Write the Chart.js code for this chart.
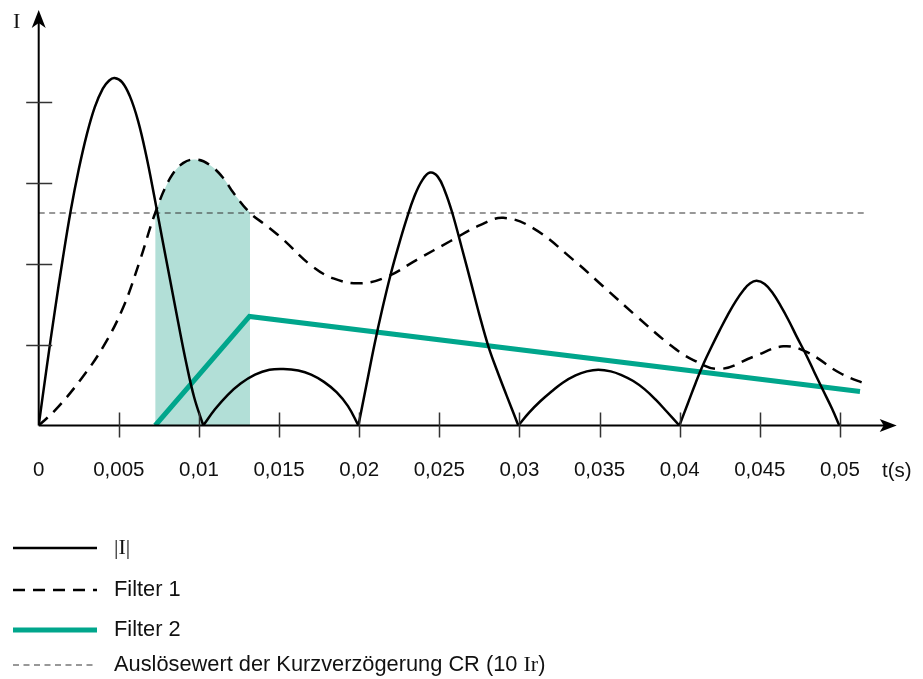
<!DOCTYPE html>
<html>
<head>
<meta charset="utf-8">
<script src="https://cdn.jsdelivr.net/npm/chart.js@4/dist/chart.umd.min.js"></script>
<style>
  html, body { margin: 0; padding: 0; background: #fff; }
  canvas { display: block; }
</style>
</head>
<body>
<canvas id="c" width="923" height="679"></canvas>
<script>
// Time in milliseconds, current in axis divisions.
// |I| is a rectified wave; null entries split the lobes so every zero is a sharp cusp.
const currentT = [
  0, 0.5, 1.0, 1.5, 2.0, 2.5, 3.0, 3.5, 4.0, 4.4, 4.73, 5.2, 5.7, 6.2, 6.7, 7.2, 7.7, 8.2, 8.7, 9.2, 9.7, 10.27,
  10.27,
  10.27, 11.0, 11.8, 12.6, 13.5, 14.4, 15.27, 16.2, 17.0, 17.8, 18.6, 19.3, 19.95,
  19.95,
  19.95, 20.45, 20.95, 21.45, 21.95, 22.45, 22.95, 23.45, 23.95, 24.42, 24.9, 25.35, 25.81, 26.4, 27.0, 27.5, 28.06, 28.6, 29.2, 29.93,
  29.93,
  29.93, 30.6, 31.3, 32.0, 32.7, 33.5, 34.2, 34.92, 35.7, 36.4, 37.1, 37.8, 38.5, 39.2, 39.98,
  39.98,
  39.98, 40.5, 41.0, 41.5, 42.0, 42.5, 43.0, 43.5, 44.0, 44.4, 44.8, 45.3, 45.8, 46.3, 46.8, 47.3, 47.9, 48.4, 48.96, 49.5, 49.96
];
const currentI = [
  0, 0.72, 1.41, 2.06, 2.66, 3.17, 3.6, 3.94, 4.17, 4.27, 4.30, 4.25, 4.07, 3.77, 3.35, 2.85, 2.32, 1.8, 1.28, 0.78, 0.35, 0,
  null,
  0, 0.2, 0.38, 0.52, 0.63, 0.69, 0.70, 0.68, 0.63, 0.54, 0.41, 0.24, 0,
  null,
  0, 0.5, 1.0, 1.45, 1.86, 2.22, 2.55, 2.84, 3.04, 3.13, 3.08, 2.9, 2.63, 2.2, 1.75, 1.37, 0.98, 0.68, 0.37, 0,
  null,
  0, 0.16, 0.3, 0.42, 0.53, 0.62, 0.67, 0.69, 0.67, 0.62, 0.55, 0.45, 0.32, 0.17, 0,
  null,
  0, 0.27, 0.53, 0.77, 0.98, 1.18, 1.37, 1.54, 1.68, 1.76, 1.79, 1.75, 1.64, 1.48, 1.3, 1.1, 0.87, 0.66, 0.43, 0.21, 0
];

const filter1T = [
  0, 1.03, 2.59, 4.04, 5.29, 6.33, 7.27, 8.2, 9.03, 9.87, 10.7, 11.53, 12.15, 13.19, 14.24, 15.27,
  16.94, 18.39, 20.06, 21.72, 23.59, 25.67, 27.54, 28.99, 30.87, 33.36, 35.23, 37.32, 39.39,
  40.85, 42.51, 44.59, 46.46, 47.92, 50.0, 51.77
];
const filter1I = [
  0, 0.19, 0.56, 0.98, 1.47, 2.05, 2.63, 3.06, 3.25, 3.29, 3.22, 3.06, 2.88, 2.63, 2.47, 2.30,
  1.99, 1.82, 1.76, 1.84, 2.05, 2.28, 2.48, 2.57, 2.44, 2.05, 1.72, 1.35, 1.00,
  0.81, 0.70, 0.85, 0.98, 0.91, 0.65, 0.50
];

const filter2T = [7.27, 13.15, 51.25];
const filter2I = [0, 1.35, 0.42];

const thresholdT = [0, 51.68];
const thresholdI = [2.63, 2.63];

// Window in which Filter 1 stays above the pick-up value
const pickupWindow = [7.27, 13.19];

const xTickValues = [0, 5, 10, 15, 20, 25, 30, 35, 40, 45, 50];
const xTickLabels = ['0', '0,005', '0,01', '0,015', '0,02', '0,025', '0,03', '0,035', '0,04', '0,045', '0,05'];
const yTickValues = [1, 2, 3, 4];

const legendLabels = ['|I|', 'Filter 1', 'Filter 2', 'Auslösewert der Kurzverzögerung CR (10 Ir)'];

const SANS = "'Liberation Sans', Arial, sans-serif";
const SERIF = "'Liberation Serif', 'Times New Roman', serif";
const TEAL = 'rgb(0,166,140)';
const SHADE = 'rgb(178,223,215)';

const pts = (ts, vs) => ts.map((t, i) => ({ x: t, y: vs[i] }));
const shadePts = pts(filter1T, filter1I).filter(p => p.x >= pickupWindow[0] && p.x <= pickupWindow[1]);

// Axes with arrow heads, tick marks crossing the axes, labels and the legend
const decor = {
  id: 'decor',
  afterDatasetsDraw(chart) {
    const { ctx, chartArea: a, scales: { x, y } } = chart;
    const x0 = x.getPixelForValue(0), y0 = y.getPixelForValue(0);
    ctx.save();
    ctx.strokeStyle = '#000';
    ctx.fillStyle = '#000';
    ctx.lineWidth = 2;
    ctx.beginPath();
    ctx.moveTo(x0, y0); ctx.lineTo(a.right - 8, y0);
    ctx.moveTo(x0, y0); ctx.lineTo(x0, a.top + 8);
    ctx.stroke();
    // arrow heads
    ctx.beginPath();
    ctx.moveTo(a.right, y0); ctx.lineTo(a.right - 17, y0 - 6.5); ctx.lineTo(a.right - 13, y0); ctx.lineTo(a.right - 17, y0 + 6.5);
    ctx.closePath(); ctx.fill();
    ctx.beginPath();
    ctx.moveTo(x0, a.top); ctx.lineTo(x0 - 7, a.top + 18); ctx.lineTo(x0, a.top + 13); ctx.lineTo(x0 + 7, a.top + 18);
    ctx.closePath(); ctx.fill();
    // tick marks
    ctx.strokeStyle = '#333';
    ctx.lineWidth = 1.5;
    ctx.beginPath();
    xTickValues.forEach(v => {
      if (v === 0) return;
      const px = Math.round(x.getPixelForValue(v)) + 0.5;
      ctx.moveTo(px, y0 - 13); ctx.lineTo(px, y0 + 12);
    });
    yTickValues.forEach(v => {
      const py = Math.round(y.getPixelForValue(v)) + 0.5;
      ctx.moveTo(x0 - 12.5, py); ctx.lineTo(x0 + 13.5, py);
    });
    ctx.stroke();
    ctx.restore();
  },
  afterDraw(chart) {
    const { ctx } = chart;
    ctx.save();
    ctx.fillStyle = '#111';
    ctx.textBaseline = 'alphabetic';
    ctx.textAlign = 'left';
    ctx.font = '22px ' + SERIF;
    ctx.fillText('I', 13, 28);
    ctx.font = '20.5px ' + SANS;
    ctx.fillText('t(s)', 882, 477);

    // legend
    const lineX0 = 13, lineX1 = 97, textX = 114;
    const rowsY = [548, 590, 630, 665];
    legendLabels.forEach((label, i) => {
      const ds = chart.data.datasets[i];
      const yy = rowsY[i];
      ctx.save();
      ctx.strokeStyle = ds.borderColor;
      ctx.lineWidth = ds.borderWidth;
      ctx.setLineDash(ds.borderDash || []);
      ctx.beginPath();
      ctx.moveTo(lineX0, yy); ctx.lineTo(lineX1, yy);
      ctx.stroke();
      ctx.restore();
      // current symbols are set in a serif face
      let cx = textX;
      ctx.textBaseline = 'middle';
      label.split(/(\|I\||Ir)/).forEach(part => {
        if (!part) return;
        const serif = part === '|I|' || part === 'Ir';
        ctx.font = serif ? '22px ' + SERIF : '21.8px ' + SANS;
        ctx.fillText(part, cx, yy);
        cx += ctx.measureText(part).width;
      });
    });
    ctx.restore();
  }
};

Chart.defaults.font.family = SANS;

new Chart(document.getElementById('c'), {
  type: 'line',
  data: {
    datasets: [
      { label: legendLabels[0], data: pts(currentT, currentI), borderColor: '#000', borderWidth: 2.5,
        pointRadius: 0, tension: 0.4, fill: false, order: 0 },
      { label: legendLabels[1], data: pts(filter1T, filter1I), borderColor: '#000', borderWidth: 2.5,
        borderDash: [12, 8], pointRadius: 0, tension: 0.4, fill: false, order: 1 },
      { label: legendLabels[2], data: pts(filter2T, filter2I), borderColor: TEAL, borderWidth: 5,
        pointRadius: 0, tension: 0, fill: false, order: 2 },
      { label: legendLabels[3], data: pts(thresholdT, thresholdI), borderColor: '#333', borderWidth: 1.1,
        borderDash: [6, 4.5], pointRadius: 0, tension: 0, fill: false, order: 3 },
      { label: 'shade', data: shadePts, borderWidth: 0, borderColor: 'rgba(0,0,0,0)', backgroundColor: SHADE,
        pointRadius: 0, tension: 0.4, fill: 'origin', order: 4 }
    ]
  },
  options: {
    responsive: false,
    animation: false,
    devicePixelRatio: 1,
    events: [],
    layout: { padding: { left: 38.5, right: 26.3, top: 10, bottom: 193.5 } },
    plugins: { legend: { display: false }, tooltip: { enabled: false } },
    scales: {
      x: {
        type: 'linear', min: 0, max: 53.54,
        grid: { display: false, drawTicks: false },
        border: { display: false },
        ticks: {
          padding: 33, color: '#111', font: { size: 20.5 }, autoSkip: false, maxRotation: 0,
          callback: (v, i) => xTickLabels[i]
        },
        afterBuildTicks: s => { s.ticks = xTickValues.map(v => ({ value: v })); },
        afterFit: s => { s.height = 60; }
      },
      y: { type: 'linear', min: 0, max: 5.142, display: false }
    }
  },
  plugins: [decor]
});
</script>
</body>
</html>
